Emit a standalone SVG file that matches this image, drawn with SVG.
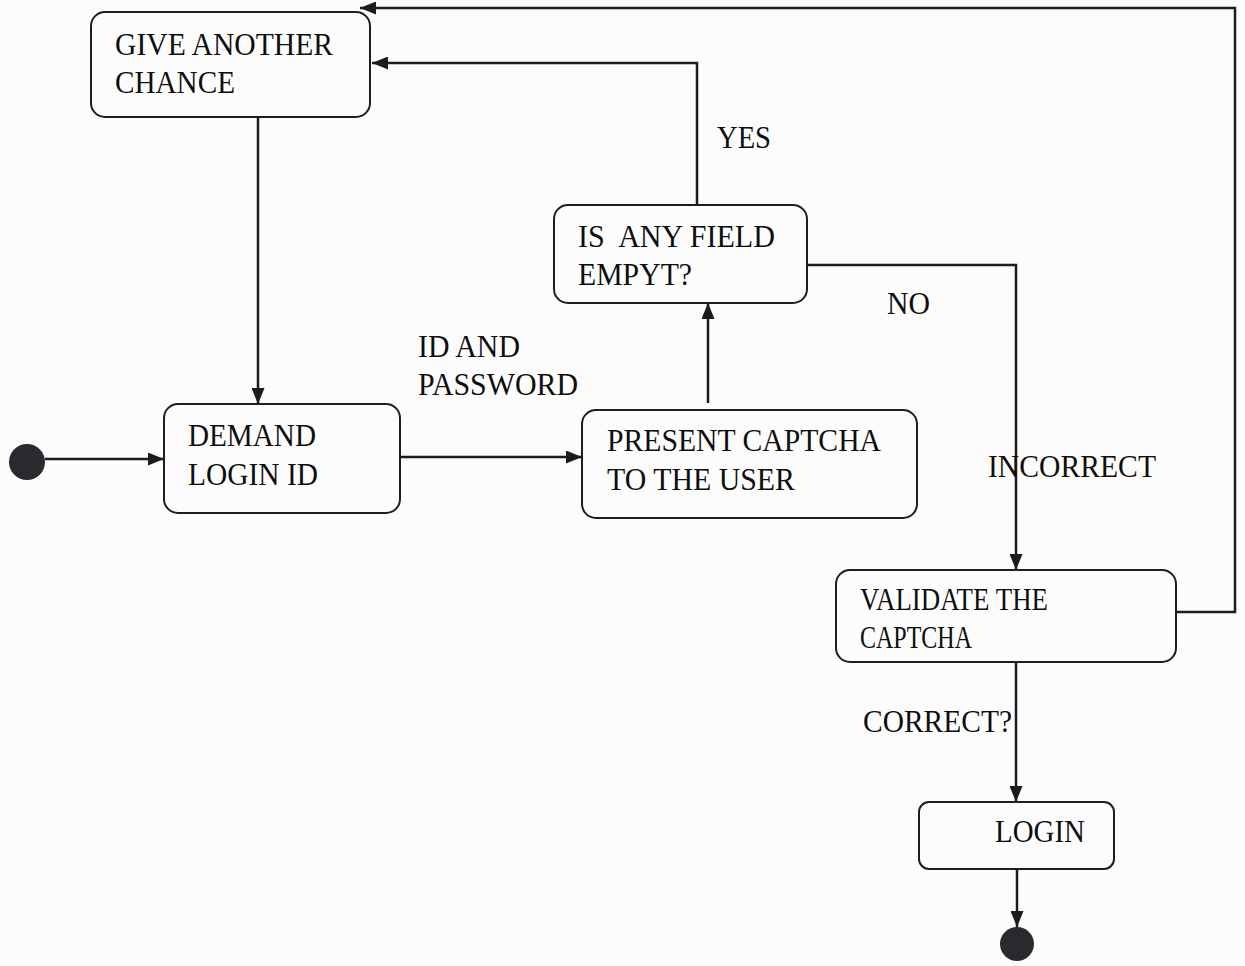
<svg xmlns="http://www.w3.org/2000/svg" width="1245" height="966" viewBox="0 0 1245 966">
  <defs>
    <marker id="arrow" viewBox="0 0 16 13" refX="16" refY="6.5" markerWidth="16" markerHeight="13" markerUnits="userSpaceOnUse" orient="auto">
      <path d="M0,0 L16,6.5 L0,13 Z" fill="#1e1a1e"/>
    </marker>
    <style>
      .box { fill: none; stroke: #1e1e1e; stroke-width: 2; }
      .edge { fill: none; stroke: #1e1a1e; stroke-width: 2.5; }
      .lbl { font-family: "Liberation Serif", "Times New Roman", serif; font-size: 31px; fill: #0e0e0e; }
      .dot { fill: #2a2a2e; }
    </style>
  </defs>
  <rect width="1245" height="966" fill="#fcfcfd"/>

  <!-- transitions -->
  <g id="connectors">
    <path class="edge" d="M45,459 H164" marker-end="url(#arrow)"/>
    <path class="edge" d="M400,457 H582" marker-end="url(#arrow)"/>
    <path class="edge" d="M708,403 V303" marker-end="url(#arrow)"/>
    <path class="edge" d="M697,205 V63 H372" marker-end="url(#arrow)"/>
    <path class="edge" d="M807,265 H1016 V570" marker-end="url(#arrow)"/>
    <path class="edge" d="M1016,662 V802" marker-end="url(#arrow)"/>
    <path class="edge" d="M1017,869 V927" marker-end="url(#arrow)"/>
    <path class="edge" d="M1176,612 H1235 V8 H360" marker-end="url(#arrow)"/>
    <path class="edge" d="M258,117 V404" marker-end="url(#arrow)"/>
    <text class="lbl" x="717" y="148" textLength="54" lengthAdjust="spacingAndGlyphs">YES</text>
    <text class="lbl" x="887" y="314" textLength="43" lengthAdjust="spacingAndGlyphs">NO</text>
    <text class="lbl" x="418" y="357" textLength="102" lengthAdjust="spacingAndGlyphs">ID AND</text>
    <text class="lbl" x="418" y="395" textLength="160" lengthAdjust="spacingAndGlyphs">PASSWORD</text>
    <text class="lbl" x="988" y="477" textLength="168" lengthAdjust="spacingAndGlyphs">INCORRECT</text>
    <text class="lbl" x="863" y="732" textLength="149" lengthAdjust="spacingAndGlyphs">CORRECT?</text>
  </g>

  <g id="start">
    <circle class="dot" cx="27" cy="462" r="18"/>
  </g>

  <g id="give-another-chance">
    <rect class="box" x="91" y="12" width="279" height="105" rx="14"/>
    <text class="lbl" x="115" y="55" textLength="218" lengthAdjust="spacingAndGlyphs">GIVE ANOTHER</text>
    <text class="lbl" x="115" y="93" textLength="120" lengthAdjust="spacingAndGlyphs">CHANCE</text>
  </g>

  <g id="is-any-field-empty">
    <rect class="box" x="554" y="205" width="253" height="98" rx="14"/>
    <text class="lbl" x="578" y="247" textLength="197" lengthAdjust="spacingAndGlyphs" xml:space="preserve">IS  ANY FIELD</text>
    <text class="lbl" x="578" y="285" textLength="114" lengthAdjust="spacingAndGlyphs">EMPYT?</text>
  </g>

  <g id="demand-login-id">
    <rect class="box" x="164" y="404" width="236" height="109" rx="14"/>
    <text class="lbl" x="188" y="446" textLength="128" lengthAdjust="spacingAndGlyphs">DEMAND</text>
    <text class="lbl" x="188" y="485" textLength="130" lengthAdjust="spacingAndGlyphs">LOGIN ID</text>
  </g>

  <g id="present-captcha">
    <rect class="box" x="582" y="410" width="335" height="108" rx="14"/>
    <text class="lbl" x="607" y="451" textLength="274" lengthAdjust="spacingAndGlyphs">PRESENT CAPTCHA</text>
    <text class="lbl" x="607" y="490" textLength="188" lengthAdjust="spacingAndGlyphs">TO THE USER</text>
  </g>

  <g id="validate-captcha">
    <rect class="box" x="836" y="570" width="340" height="92" rx="14"/>
    <text class="lbl" x="860" y="610" textLength="188" lengthAdjust="spacingAndGlyphs">VALIDATE THE</text>
    <text class="lbl" x="860" y="648" textLength="112" lengthAdjust="spacingAndGlyphs">CAPTCHA</text>
  </g>

  <g id="login">
    <rect class="box" x="919" y="802" width="195" height="67" rx="10"/>
    <text class="lbl" x="995" y="842" textLength="90" lengthAdjust="spacingAndGlyphs">LOGIN</text>
  </g>

  <g id="end">
    <circle class="dot" cx="1017" cy="944" r="17"/>
  </g>
</svg>
